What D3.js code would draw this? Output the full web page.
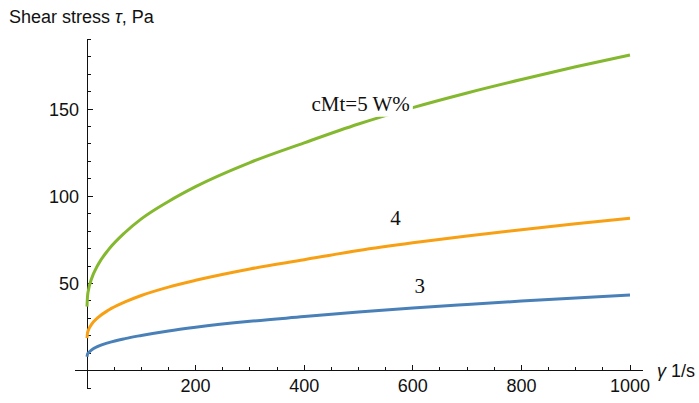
<!DOCTYPE html>
<html>
<head>
<meta charset="utf-8">
<script src="https://cdn.jsdelivr.net/npm/d3@7"></script>
<style>
  html, body { margin: 0; padding: 0; background: #fff; }
  svg { display: block; }
  .tick-label { font-family: "Liberation Sans", Arial, sans-serif; font-size: 18px; fill: #111; }
  .curve-label { font-family: "Liberation Serif", "Times New Roman", serif; font-size: 21px; fill: #111; }
</style>
</head>
<body>
<svg id="chart" width="699" height="403"></svg>
<script>
// Shear rate (1/s) at which each flow curve is sampled
const shearRate = [0, 1, 3, 8, 20, 40, 70, 100, 150, 200, 300, 400, 500, 600, 700, 800, 900, 1000];

// Shear stress (Pa) for each concentration
const stress3 = [8.0, 9.5, 10.4, 11.8, 13.9, 16.1, 18.4, 20.2, 22.8, 24.9, 28.3, 31.0, 33.7, 36.0, 38.0, 39.9, 41.7, 43.4];
const stress4 = [18.6, 21.7, 23.6, 26.4, 30.4, 34.8, 39.4, 43.1, 47.9, 51.8, 58.3, 63.6, 68.9, 73.3, 77.2, 80.8, 84.2, 87.4];
const stress5 = [36.7, 42.7, 46.7, 52.4, 60.6, 69.5, 79.2, 87.0, 97.0, 105.5, 119.3, 130.6, 141.4, 150.8, 159.2, 166.9, 174.2, 181.0];

const seriesNames = ["3", "4", "cMt=5 W%"];
const seriesColors = ["#4a80b8", "#f8a014", "#84b82e"];

// Baseline point of each curve's name (shear rate, stress)
const labelAnchors = [[613, 44.5], [568, 83.5], [504, 149]];

const xTickMajor = [200, 400, 600, 800, 1000];
const yTickMajor = [50, 100, 150];

const svg = d3.select("#chart");

const x = d3.scaleLinear().domain([0, 1000]).range([87, 630]);
const y = d3.scaleLinear().domain([0, 150]).range([370.7, 109]);

const xExtent = [-22, 1024];
const yExtent = [-10, 190];

const axes = svg.append("g").attr("stroke", "#111").attr("stroke-width", 1).attr("shape-rendering", "crispEdges");

// x axis line with inward ticks
axes.append("line")
  .attr("x1", x(xExtent[0])).attr("x2", x(xExtent[1]))
  .attr("y1", y(0)).attr("y2", y(0));
const xMinor = d3.range(50, 1001, 50);
axes.selectAll(".xt").data(xMinor).join("line")
  .attr("x1", d => x(d)).attr("x2", d => x(d))
  .attr("y1", y(0))
  .attr("y2", d => y(0) - (xTickMajor.includes(d) ? 6 : 3.5));

// y axis line with inward ticks
axes.append("line")
  .attr("x1", x(0)).attr("x2", x(0))
  .attr("y1", y(yExtent[0])).attr("y2", y(yExtent[1]));
const yMinor = d3.range(-10, 191, 10).filter(d => d !== 0);
axes.selectAll(".yt").data(yMinor).join("line")
  .attr("x1", x(0))
  .attr("x2", d => x(0) + (yTickMajor.includes(d) ? 6 : 3.5))
  .attr("y1", d => y(d)).attr("y2", d => y(d));

// tick labels
svg.selectAll(".xl").data(xTickMajor).join("text")
  .attr("class", "tick-label")
  .attr("x", d => x(d)).attr("y", y(0) + 21)
  .attr("text-anchor", "middle")
  .text(d => d);
svg.selectAll(".yl").data(yTickMajor).join("text")
  .attr("class", "tick-label")
  .attr("x", x(0) - 8).attr("y", d => y(d) + 6.5)
  .attr("text-anchor", "end")
  .text(d => d);

// axis titles
const yt = svg.append("text").attr("class", "tick-label").attr("x", 9).attr("y", 23);
yt.append("tspan").text("Shear stress ");
yt.append("tspan").attr("font-style", "italic").text("τ");
yt.append("tspan").text(", Pa");

const xt = svg.append("text").attr("class", "tick-label").attr("x", 657).attr("y", 377);
xt.append("tspan").attr("font-style", "italic").text("γ");
xt.append("tspan").text(" 1/s");

// flow curves
const line = d3.line()
  .x((d, i) => x(shearRate[i]))
  .y(d => y(d))
  .curve(d3.curveMonotoneX);

[stress3, stress4, stress5].forEach((s, i) => {
  svg.append("path")
    .attr("d", line(s))
    .attr("fill", "none")
    .attr("stroke", seriesColors[i])
    .attr("stroke-width", 3)
    .attr("stroke-linecap", "butt");
});

// curve names, on a white backing so the curve passes behind them
seriesNames.forEach((name, i) => {
  const g = svg.append("g");
  const t = g.append("text")
    .attr("class", "curve-label")
    .attr("x", x(labelAnchors[i][0]))
    .attr("y", y(labelAnchors[i][1]))
    .attr("text-anchor", "middle")
    .text(name);
  const bb = t.node().getBBox();
  g.insert("rect", "text")
    .attr("x", bb.x - 3).attr("y", bb.y - 1)
    .attr("width", bb.width + 6).attr("height", bb.height + 2)
    .attr("fill", "#fff");
});
</script>
</body>
</html>
